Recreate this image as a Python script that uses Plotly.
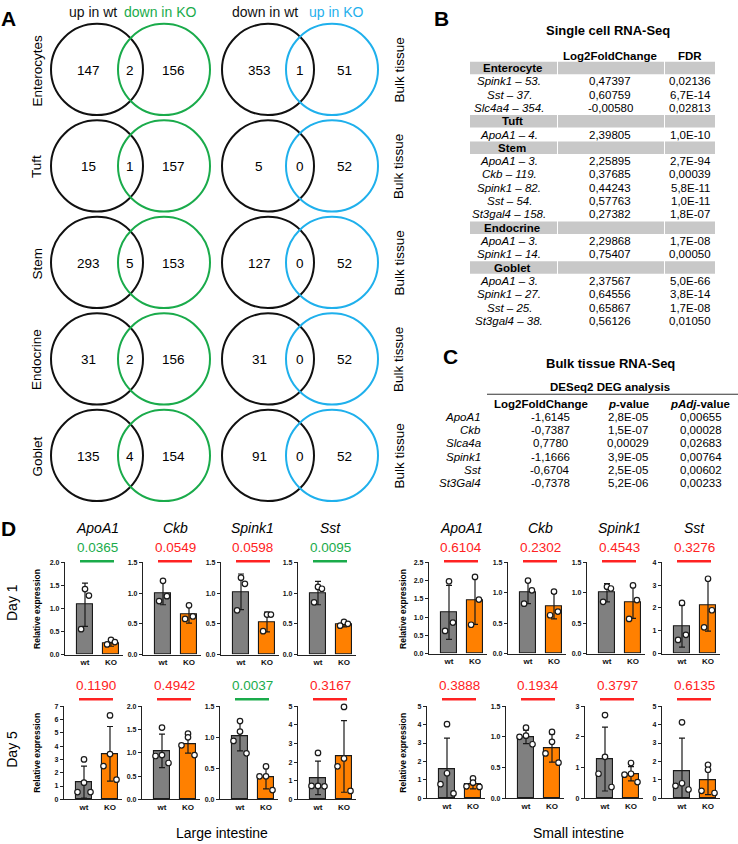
import plotly.graph_objects as go

W, H = 738, 844
FONT = "Liberation Sans, Arial, sans-serif"

# ---------------- Panel A: Venn counts ----------------
venn_cell_types = ["Enterocytes", "Tuft", "Stem", "Endocrine", "Goblet"]
up_wt_only = [147, 15, 293, 31, 135]
up_wt_down_ko_both = [2, 1, 5, 2, 4]
down_ko_only = [156, 157, 153, 156, 154]
down_wt_only = [353, 5, 127, 31, 91]
down_wt_up_ko_both = [1, 0, 0, 0, 0]
up_ko_only = [51, 52, 52, 52, 52]
venn_left_headers = ["up in wt", "down in KO"]
venn_right_headers = ["down in wt", "up in KO"]
venn_side_label = "Bulk tissue"

# ---------------- Panel B: single cell table ----------------
sc_title = "Single cell RNA-Seq"
sc_headers = ["Log2FoldChange", "FDR"]
sc_cell_types = ["Enterocyte", "Tuft", "Stem", "Endocrine", "Goblet"]
sc_genes = [
    ["Spink1 – 53.", "Sst – 37.", "Slc4a4 – 354."],
    ["ApoA1 – 4."],
    ["ApoA1 – 3.", "Ckb – 119.", "Spink1 – 82.", "Sst – 54.", "St3gal4 – 158."],
    ["ApoA1 – 3.", "Spink1 – 14."],
    ["ApoA1 – 3.", "Spink1 – 27.", "Sst – 25.", "St3gal4 – 38."],
]
sc_log2fc = [
    ["0,47397", "0,60759", "-0,00580"],
    ["2,39805"],
    ["2,25895", "0,37685", "0,44243", "0,57763", "0,27382"],
    ["2,29868", "0,75407"],
    ["2,37567", "0,64556", "0,65867", "0,56126"],
]
sc_fdr = [
    ["0,02136", "6,7E-14", "0,02813"],
    ["1,0E-10"],
    ["2,7E-94", "0,00039", "5,8E-11", "1,0E-11", "1,8E-07"],
    ["1,7E-08", "0,00050"],
    ["5,0E-66", "3,8E-14", "1,7E-08", "0,01050"],
]

# ---------------- Panel C: bulk table ----------------
bulk_title = "Bulk tissue RNA-Seq"
bulk_subtitle = "DESeq2 DEG analysis"
bulk_headers = ["<b>Log2FoldChange</b>", "<b><i>p</i>-value</b>", "<b><i>pAdj</i>-value</b>"]
bulk_genes = ["ApoA1", "Ckb", "Slca4a", "Spink1", "Sst", "St3Gal4"]
bulk_log2fc = ["-1,6145", "-0,7387", "0,7780", "-1,1666", "-0,6704", "-0,7378"]
bulk_pvalue = ["2,8E-05", "1,5E-07", "0,00029", "3,9E-05", "2,5E-05", "5,2E-06"]
bulk_padj = ["0,00655", "0,00028", "0,02683", "0,00764", "0,00602", "0,00233"]

# ---------------- Panel D: qPCR ----------------
qpcr_genes = ["ApoA1", "Ckb", "Spink1", "Sst"]
qpcr_groups = ["wt", "KO"]

li_d1_wt_mean = [1.08, 1.00, 1.02, 1.00]
li_d1_ko_mean = [0.25, 0.65, 0.53, 0.49]
li_d1_wt_sd = [0.47, 0.19, 0.29, 0.19]
li_d1_ko_sd = [0.07, 0.14, 0.16, 0.04]
li_d1_wt_pts = [[1.42, 1.28, 0.55], [1.20, 0.95, 0.87], [1.25, 1.15, 0.72], [1.10, 1.07, 0.85]]
li_d1_ko_pts = [[0.32, 0.27, 0.22], [0.80, 0.62, 0.58], [0.65, 0.65, 0.38], [0.53, 0.50, 0.47]]
li_d1_p = ["0.0365", "0.0549", "0.0598", "0.0095"]
li_d1_ymax = [2.0, 1.5, 1.5, 1.5]

li_d5_wt_mean = [1.30, 1.04, 1.02, 1.15]
li_d5_ko_mean = [3.42, 1.19, 0.35, 2.30]
li_d5_wt_sd = [1.20, 0.36, 0.24, 0.90]
li_d5_ko_sd = [2.05, 0.20, 0.18, 1.92]
li_d5_wt_pts = [[3.0, 1.25, 0.55, 0.55], [1.54, 0.95, 0.93, 0.78], [1.26, 1.09, 0.94, 0.74], [2.49, 0.72, 0.72, 0.70]]
li_d5_ko_pts = [[6.3, 3.4, 2.5, 1.48], [1.41, 1.33, 1.16, 0.95], [0.53, 0.37, 0.37, 0.15], [4.96, 2.19, 1.77, 0.45]]
li_d5_p = ["0.1190", "0.4942", "0.0037", "0.3167"]
li_d5_ymax = [7, 2.0, 1.5, 5]

si_d1_wt_mean = [1.13, 1.01, 1.00, 1.20]
si_d1_ko_mean = [1.45, 0.78, 0.85, 2.10]
si_d1_wt_sd = [0.74, 0.19, 0.15, 0.92]
si_d1_ko_sd = [0.65, 0.21, 0.27, 1.12]
si_d1_wt_pts = [[1.98, 0.85, 0.62], [1.20, 1.04, 0.82], [1.10, 1.07, 0.85], [2.22, 0.82, 0.60]]
si_d1_ko_pts = [[2.10, 1.48, 0.79], [1.02, 0.69, 0.63], [1.12, 0.88, 0.57], [3.28, 1.90, 1.15]]
si_d1_p = ["0.6104", "0.2302", "0.4543", "0.3276"]
si_d1_ymax = [2.5, 1.5, 1.5, 4]

si_d5_wt_mean = [1.58, 1.00, 1.28, 1.50]
si_d5_ko_mean = [0.78, 0.82, 0.80, 1.00]
si_d5_wt_sd = [1.69, 0.11, 1.04, 1.77]
si_d5_ko_sd = [0.27, 0.23, 0.23, 0.80]
si_d5_wt_pts = [[4.02, 1.36, 0.77, 0.27], [1.15, 1.02, 1.00, 0.88], [2.71, 1.35, 0.80, 0.37], [4.12, 0.82, 0.68, 0.48]]
si_d5_ko_pts = [[1.08, 0.85, 0.65, 0.62], [1.08, 0.92, 0.73, 0.58], [1.15, 0.80, 0.77, 0.53], [1.82, 1.55, 0.41, 0.29]]
si_d5_p = ["0.3888", "0.1934", "0.3797", "0.6135"]
si_d5_ymax = [5, 1.5, 3, 5]

# ---------------- styles ----------------
BLACK = "#111111"
GREEN = "#1aab4b"
BLUE = "#1fb0ec"
RED = "#ff2222"
GRAY_BAR = "#808080"
ORANGE_BAR = "#ff8000"
BAND = "#c8c8c8"


def X(v):
    return v / W


def Y(v):
    return 1 - v / H


shapes = []
annotations = []


def text(x, y, s, size=12, color="black", xanchor="center", yanchor="middle", angle=0):
    annotations.append(dict(
        x=X(x), y=Y(y), xref="paper", yref="paper", text=s, showarrow=False,
        font=dict(family=FONT, size=size, color=color),
        xanchor=xanchor, yanchor=yanchor, textangle=angle,
        borderpad=0, borderwidth=0))


def circle(cx, cy, r, color):
    shapes.append(dict(type="circle", xref="paper", yref="paper",
                       x0=X(cx - r), x1=X(cx + r), y0=Y(cy + r), y1=Y(cy - r),
                       line=dict(color=color, width=2)))


def hline(x0, x1, y, color, width):
    shapes.append(dict(type="line", xref="paper", yref="paper",
                       x0=X(x0), x1=X(x1), y0=Y(y), y1=Y(y),
                       line=dict(color=color, width=width)))


def rect(x0, x1, y0, y1, color):
    shapes.append(dict(type="rect", xref="paper", yref="paper",
                       x0=X(x0), x1=X(x1), y0=Y(y1), y1=Y(y0),
                       fillcolor=color, line=dict(width=0), layer="below"))


# ---------------- Panel A ----------------
text(8, 15, "<b>A</b>", size=21)
text(93, 8, venn_left_headers[0], size=14, color=BLACK)
text(160, 8, venn_left_headers[1], size=14, color=GREEN)
text(265, 8, venn_right_headers[0], size=14, color=BLACK)
text(336, 8, venn_right_headers[1], size=14, color=BLUE)

R = 46
for i, ct in enumerate(venn_cell_types):
    cy = 66 + i * 97.3
    circle(97, cy, R, BLACK)
    circle(164, cy, R, GREEN)
    circle(268, cy, R, BLACK)
    circle(332, cy, R, BLUE)
    ty = cy + 1
    text(88, ty, str(up_wt_only[i]), size=13.5)
    text(130, ty, str(up_wt_down_ko_both[i]), size=13.5)
    text(173, ty, str(down_ko_only[i]), size=13.5)
    text(259, ty, str(down_wt_only[i]), size=13.5)
    text(300, ty, str(down_wt_up_ko_both[i]), size=13.5)
    text(344, ty, str(up_ko_only[i]), size=13.5)
    text(37, ty, ct, size=13.5, angle=-90)
    text(399, ty, venn_side_label, size=13.5, angle=-90)

# ---------------- Panel B ----------------
text(441, 15, "<b>B</b>", size=21)
text(608, 27, "<b>" + sc_title + "</b>", size=13)
text(610, 52, "<b>" + sc_headers[0] + "</b>", size=11.5)
text(690, 52, "<b>" + sc_headers[1] + "</b>", size=11.5)
row = 0
for g, ct in enumerate(sc_cell_types):
    yc = 64.5 + row * 13.42
    rect(470, 557, yc - 6.3, yc + 6.3, BAND)
    rect(558, 664, yc - 6.3, yc + 6.3, BAND)
    rect(665, 715, yc - 6.3, yc + 6.3, BAND)
    text(512, yc, "<b>" + ct + "</b>", size=11.5)
    row += 1
    for k, gene in enumerate(sc_genes[g]):
        yc = 64.5 + row * 13.42
        text(509, yc, "<i>" + gene + "</i>", size=11.5)
        text(610, yc, sc_log2fc[g][k], size=11.5)
        text(690, yc, sc_fdr[g][k], size=11.5)
        row += 1

# ---------------- Panel C ----------------
text(450, 355, "<b>C</b>", size=21)
text(610, 363, "<b>" + bulk_title + "</b>", size=13)
text(610, 386, "<b>" + bulk_subtitle + "</b>", size=11.5)
hline(487, 738, 393.5, "#333333", 1)
text(541, 403, bulk_headers[0], size=11.5)
text(628, 403, bulk_headers[1], size=11.5)
text(700, 403, bulk_headers[2], size=11.5)
for i, gene in enumerate(bulk_genes):
    yc = 416.3 + i * 13.4
    text(481, yc, "<i>" + gene + "</i>", size=11.5, xanchor="right")
    text(550, yc, bulk_log2fc[i], size=11.5)
    text(628, yc, bulk_pvalue[i], size=11.5)
    text(701, yc, bulk_padj[i], size=11.5)

# ---------------- Panel D ----------------
text(8, 529, "<b>D</b>", size=21)
text(12, 604, "Day 1", size=14, angle=-90)
text(12, 752, "Day 5", size=14, angle=-90)
text(222, 836, "Large intestine", size=14)
text(578, 836, "Small intestine", size=14)
for xr in (37, 403):
    text(xr, 610, "<b>Relative expression</b>", size=8.5, angle=-90)
    text(xr, 755, "<b>Relative expression</b>", size=8.5, angle=-90)

fig = go.Figure()

CW = 58          # axis width in px
C_WT, C_KO = 20, 46  # bar centre offsets in px
xr_lo = -C_WT / (C_KO - C_WT)
xr_hi = (CW - C_WT) / (C_KO - C_WT)

JIT = {3: [0.0, 0.15, -0.15], 4: [0.0, 0.0, -0.25, 0.25]}

panels = [
    ([65, 143, 221, 298], 563, 656, li_d1_wt_mean, li_d1_ko_mean, li_d1_wt_sd, li_d1_ko_sd,
     li_d1_wt_pts, li_d1_ko_pts, li_d1_p, li_d1_ymax, True),
    ([64, 142, 220, 298], 708, 802, li_d5_wt_mean, li_d5_ko_mean, li_d5_wt_sd, li_d5_ko_sd,
     li_d5_wt_pts, li_d5_ko_pts, li_d5_p, li_d5_ymax, False),
    ([429, 508, 587, 662], 563, 655, si_d1_wt_mean, si_d1_ko_mean, si_d1_wt_sd, si_d1_ko_sd,
     si_d1_wt_pts, si_d1_ko_pts, si_d1_p, si_d1_ymax, True),
    ([427, 506, 585, 662], 708, 801, si_d5_wt_mean, si_d5_ko_mean, si_d5_wt_sd, si_d5_ko_sd,
     si_d5_wt_pts, si_d5_ko_pts, si_d5_p, si_d5_ymax, False),
]

layout_axes = {}
n = 0
for (x0s, ytop, ybot, wm, km, ws, ks, wp, kp, pv, ymx, titles) in panels:
    for j in range(4):
        n += 1
        xa = "x" if n == 1 else f"x{n}"
        ya = "y" if n == 1 else f"y{n}"
        x0 = x0s[j]
        fig.add_trace(go.Bar(
            x=[0, 1], y=[wm[j], km[j]], width=0.65,
            marker=dict(color=[GRAY_BAR, ORANGE_BAR], line=dict(color="#1a1a1a", width=1.1)),
            error_y=dict(type="data", array=[ws[j], ks[j]], visible=True,
                         color="#1a1a1a", thickness=1.2, width=3),
            xaxis=xa, yaxis=ya, showlegend=False, hoverinfo="skip"))
        for gi, pts in enumerate([wp[j], kp[j]]):
            jit = JIT[len(pts)]
            fig.add_trace(go.Scatter(
                x=[gi + jit[k] for k in range(len(pts))], y=pts, mode="markers",
                marker=dict(size=5.5, color="white", line=dict(color="#1a1a1a", width=1.2)),
                xaxis=xa, yaxis=ya, showlegend=False, hoverinfo="skip", cliponaxis=False))
        ymax = ymx[j]
        dt = 1 if ymax >= 3 else 0.5
        fmt = "d" if dt == 1 else ".1f"
        key = "" if n == 1 else str(n)
        layout_axes["xaxis" + key] = dict(
            domain=[X(x0), X(x0 + CW)], anchor=ya, range=[xr_lo, xr_hi],
            showline=True, linecolor="#222222", linewidth=1.3, showgrid=False, zeroline=False,
            tickvals=[0, 1], ticktext=qpcr_groups, ticks="",
            tickfont=dict(family=FONT, size=8, color="#111111", weight="bold"),
            fixedrange=True)
        layout_axes["yaxis" + key] = dict(
            domain=[Y(ybot), Y(ytop)], anchor=xa, range=[0, ymax],
            showline=True, linecolor="#222222", linewidth=1.3, showgrid=False, zeroline=False,
            tick0=0, dtick=dt, tickformat=fmt, ticks="outside", ticklen=3, tickwidth=1,
            tickcolor="#222222",
            tickfont=dict(family=FONT, size=7, color="#111111", weight="bold"),
            fixedrange=True)
        pcol = GREEN if float(pv[j]) < 0.05 else RED
        cx = x0 + 32
        if titles:
            text(cx, 528, "<i>" + qpcr_genes[j] + "</i>", size=14)
            text(cx, 548, pv[j], size=13.5, color=pcol)
            hline(cx - 17, cx + 17, 562, pcol, 2.5)
        else:
            text(cx, 687, pv[j], size=13.5, color=pcol)
            hline(cx - 17, cx + 17, 701, pcol, 2.5)

fig.update_layout(
    width=W, height=H, autosize=False,
    margin=dict(l=0, r=0, t=0, b=0, pad=0),
    paper_bgcolor="white", plot_bgcolor="white",
    font=dict(family=FONT, color="#111111"),
    shapes=shapes, annotations=annotations, bargap=0,
    **layout_axes)

fig.write_html("out.html")
